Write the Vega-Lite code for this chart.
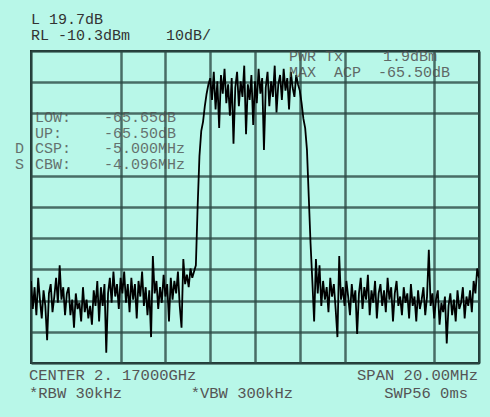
{
  "$schema": "https://vega.github.io/schema/vega-lite/v6.json",
  "autosize": "none",
  "width": 448,
  "height": 312,
  "padding": {"left": 31, "top": 51, "right": 11, "bottom": 54},
  "background": "#b8f7e8",
  "config": {
    "view": {"stroke": "#1a2a28", "strokeWidth": 2, "fill": "#b8f7e8"},
    "text": {"font": "Liberation Mono", "fontSize": 15, "baseline": "alphabetic", "align": "left"}
  },
  "resolve": {"axis": {"x": "independent", "y": "independent"}},
  "datasets": {
    "one": [{"k": 1}],
    "trace": [
      {"f":-10,"p":-84},{"f":-9.92,"p":-93},{"f":-9.84,"p":-86},{"f":-9.76,"p":-95},{"f":-9.68,"p":-83},{"f":-9.6,"p":-90},{"f":-9.52,"p":-96},{"f":-9.44,"p":-87},{"f":-9.36,"p":-92},{"f":-9.28,"p":-103},
      {"f":-9.2,"p":-88},{"f":-9.12,"p":-85},{"f":-9.04,"p":-94},{"f":-8.96,"p":-89},{"f":-8.88,"p":-83},{"f":-8.8,"p":-91},{"f":-8.72,"p":-79},{"f":-8.64,"p":-90},{"f":-8.56,"p":-86},{"f":-8.48,"p":-95},
      {"f":-8.4,"p":-88},{"f":-8.32,"p":-86},{"f":-8.24,"p":-95},{"f":-8.16,"p":-90},{"f":-8.08,"p":-99},{"f":-8,"p":-88},{"f":-7.92,"p":-93},{"f":-7.84,"p":-91},{"f":-7.76,"p":-97},{"f":-7.68,"p":-86},
      {"f":-7.6,"p":-94},{"f":-7.52,"p":-90},{"f":-7.44,"p":-96},{"f":-7.36,"p":-92},{"f":-7.28,"p":-98},{"f":-7.2,"p":-87},{"f":-7.12,"p":-92},{"f":-7.04,"p":-84},{"f":-6.96,"p":-97},{"f":-6.88,"p":-86},
      {"f":-6.8,"p":-92},{"f":-6.72,"p":-85},{"f":-6.64,"p":-107},{"f":-6.56,"p":-88},{"f":-6.48,"p":-83},{"f":-6.4,"p":-91},{"f":-6.32,"p":-81},{"f":-6.24,"p":-89},{"f":-6.16,"p":-85},{"f":-6.08,"p":-93},
      {"f":-6,"p":-83},{"f":-5.92,"p":-88},{"f":-5.84,"p":-81},{"f":-5.76,"p":-91},{"f":-5.68,"p":-85},{"f":-5.6,"p":-94},{"f":-5.52,"p":-83},{"f":-5.44,"p":-90},{"f":-5.36,"p":-85},{"f":-5.28,"p":-96},
      {"f":-5.2,"p":-84},{"f":-5.12,"p":-89},{"f":-5.04,"p":-81},{"f":-4.96,"p":-92},{"f":-4.88,"p":-86},{"f":-4.8,"p":-95},{"f":-4.72,"p":-87},{"f":-4.64,"p":-102},{"f":-4.56,"p":-76},{"f":-4.48,"p":-88},
      {"f":-4.4,"p":-84},{"f":-4.32,"p":-93},{"f":-4.24,"p":-86},{"f":-4.16,"p":-91},{"f":-4.08,"p":-82},{"f":-4,"p":-89},{"f":-3.92,"p":-85},{"f":-3.84,"p":-97},{"f":-3.76,"p":-83},{"f":-3.68,"p":-90},
      {"f":-3.6,"p":-84},{"f":-3.52,"p":-88},{"f":-3.44,"p":-81},{"f":-3.36,"p":-92},{"f":-3.28,"p":-99},{"f":-3.2,"p":-77},{"f":-3.12,"p":-85},{"f":-3.04,"p":-82},{"f":-2.96,"p":-86},{"f":-2.88,"p":-80},
      {"f":-2.8,"p":-83},{"f":-2.72,"p":-81},{"f":-2.64,"p":-79},{"f":-2.56,"p":-60},{"f":-2.48,"p":-44},{"f":-2.4,"p":-36},{"f":-2.32,"p":-33},{"f":-2.24,"p":-28},{"f":-2.16,"p":-24},{"f":-2.08,"p":-21},
      {"f":-2,"p":-19},{"f":-1.92,"p":-26},{"f":-1.84,"p":-17},{"f":-1.76,"p":-29},{"f":-1.68,"p":-20},{"f":-1.6,"p":-35},{"f":-1.52,"p":-18},{"f":-1.44,"p":-24},{"f":-1.36,"p":-16},{"f":-1.28,"p":-27},
      {"f":-1.2,"p":-21},{"f":-1.12,"p":-31},{"f":-1.04,"p":-19},{"f":-0.96,"p":-40},{"f":-0.88,"p":-22},{"f":-0.8,"p":-17},{"f":-0.72,"p":-28},{"f":-0.64,"p":-20},{"f":-0.56,"p":-25},{"f":-0.48,"p":-15},
      {"f":-0.4,"p":-37},{"f":-0.32,"p":-21},{"f":-0.24,"p":-26},{"f":-0.16,"p":-18},{"f":-0.08,"p":-34},{"f":0,"p":-20},{"f":0.08,"p":-27},{"f":0.16,"p":-16},{"f":0.24,"p":-24},{"f":0.32,"p":-19},
      {"f":0.4,"p":-42},{"f":0.48,"p":-22},{"f":0.56,"p":-17},{"f":0.64,"p":-28},{"f":0.72,"p":-20},{"f":0.8,"p":-25},{"f":0.88,"p":-15},{"f":0.96,"p":-30},{"f":1.04,"p":-21},{"f":1.12,"p":-18},
      {"f":1.2,"p":-26},{"f":1.28,"p":-16},{"f":1.36,"p":-23},{"f":1.44,"p":-19},{"f":1.52,"p":-29},{"f":1.6,"p":-17},{"f":1.68,"p":-22},{"f":1.76,"p":-25},{"f":1.84,"p":-18},{"f":1.92,"p":-21},
      {"f":2,"p":-23},{"f":2.08,"p":-27},{"f":2.16,"p":-32},{"f":2.24,"p":-35},{"f":2.32,"p":-42},{"f":2.4,"p":-57},{"f":2.48,"p":-72},{"f":2.56,"p":-84},{"f":2.64,"p":-97},{"f":2.72,"p":-77},
      {"f":2.8,"p":-88},{"f":2.88,"p":-79},{"f":2.96,"p":-92},{"f":3.04,"p":-84},{"f":3.12,"p":-90},{"f":3.2,"p":-86},{"f":3.28,"p":-94},{"f":3.36,"p":-83},{"f":3.44,"p":-89},{"f":3.52,"p":-85},
      {"f":3.6,"p":-93},{"f":3.68,"p":-102},{"f":3.76,"p":-76},{"f":3.84,"p":-90},{"f":3.92,"p":-86},{"f":4,"p":-92},{"f":4.08,"p":-84},{"f":4.16,"p":-89},{"f":4.24,"p":-95},{"f":4.32,"p":-85},
      {"f":4.4,"p":-91},{"f":4.48,"p":-87},{"f":4.56,"p":-101},{"f":4.64,"p":-88},{"f":4.72,"p":-83},{"f":4.8,"p":-93},{"f":4.88,"p":-86},{"f":4.96,"p":-90},{"f":5.04,"p":-82},{"f":5.12,"p":-95},
      {"f":5.2,"p":-87},{"f":5.28,"p":-91},{"f":5.36,"p":-84},{"f":5.44,"p":-96},{"f":5.52,"p":-88},{"f":5.6,"p":-85},{"f":5.68,"p":-92},{"f":5.76,"p":-87},{"f":5.84,"p":-94},{"f":5.92,"p":-83},
      {"f":6,"p":-90},{"f":6.08,"p":-86},{"f":6.16,"p":-97},{"f":6.24,"p":-88},{"f":6.32,"p":-84},{"f":6.4,"p":-92},{"f":6.48,"p":-89},{"f":6.56,"p":-95},{"f":6.64,"p":-86},{"f":6.72,"p":-91},
      {"f":6.8,"p":-88},{"f":6.88,"p":-96},{"f":6.96,"p":-85},{"f":7.04,"p":-92},{"f":7.12,"p":-89},{"f":7.2,"p":-97},{"f":7.28,"p":-87},{"f":7.36,"p":-93},{"f":7.44,"p":-90},{"f":7.52,"p":-86},
      {"f":7.6,"p":-95},{"f":7.68,"p":-89},{"f":7.76,"p":-74},{"f":7.84,"p":-92},{"f":7.92,"p":-88},{"f":8,"p":-96},{"f":8.08,"p":-90},{"f":8.16,"p":-87},{"f":8.24,"p":-98},{"f":8.32,"p":-91},
      {"f":8.4,"p":-94},{"f":8.48,"p":-89},{"f":8.56,"p":-104},{"f":8.64,"p":-92},{"f":8.72,"p":-88},{"f":8.8,"p":-95},{"f":8.88,"p":-90},{"f":8.96,"p":-97},{"f":9.04,"p":-87},{"f":9.12,"p":-93},
      {"f":9.2,"p":-91},{"f":9.28,"p":-86},{"f":9.36,"p":-96},{"f":9.44,"p":-89},{"f":9.52,"p":-92},{"f":9.6,"p":-87},{"f":9.68,"p":-94},{"f":9.76,"p":-84},{"f":9.84,"p":-88},{"f":9.92,"p":-80},
      {"f":10,"p":-83}
    ]
  },
  "layer": [
    {
      "data": {"name": "trace"},
      "mark": {"type": "line", "color": "#000000", "strokeWidth": 1.8, "clip": true},
      "encoding": {
        "x": {"field": "f", "type": "quantitative",
              "scale": {"domain": [-10, 10], "nice": false, "zero": false},
              "axis": {"grid": true, "values": [-10, -6, -4, -2, 0, 2, 4, 8, 10], "labels": false, "ticks": false, "domain": false, "title": null,
                       "gridColor": "#2c4a45", "gridWidth": 2.5, "gridOpacity": 0.8}},
        "y": {"field": "p", "type": "quantitative",
              "scale": {"domain": [-110.3, -10.3], "nice": false, "zero": false},
              "axis": {"grid": true, "values": [-10.3, -20.3, -30.3, -50.3, -60.3, -70.3, -80.3, -90.3, -100.3, -110.3], "labels": false, "ticks": false, "domain": false, "title": null,
                       "gridColor": "#2c4a45", "gridWidth": 2.5, "gridOpacity": 0.8}}
      }
    },
    {"data": {"name": "one"}, "mark": {"type": "text", "text": ["L 19.7dB", "RL -10.3dBm\u00a0\u00a0\u00a0\u00a010dB/"], "fontSize": 15, "lineHeight": 16, "color": "#333333"},
     "encoding": {"x": {"datum": -10, "type": "quantitative", "axis": null}, "y": {"datum": -1.65, "type": "quantitative", "axis": null}}},
    {"data": {"name": "one"}, "mark": {"type": "text", "text": ["PWR Tx", "MAX\u00a0\u00a0ACP"], "fontSize": 15, "lineHeight": 16, "color": "#505050", "opacity": 0.85},
     "encoding": {"x": {"datum": 1.52, "type": "quantitative", "axis": null}, "y": {"datum": -13.5, "type": "quantitative", "axis": null}}},
    {"data": {"name": "one"}, "mark": {"type": "text", "text": "1.9dBm", "fontSize": 15, "color": "#505050", "opacity": 0.85},
     "encoding": {"x": {"datum": 5.71, "type": "quantitative", "axis": null}, "y": {"datum": -13.5, "type": "quantitative", "axis": null}}},
    {"data": {"name": "one"}, "mark": {"type": "text", "text": "-65.50dB", "fontSize": 15, "color": "#505050", "opacity": 0.85},
     "encoding": {"x": {"datum": 5.49, "type": "quantitative", "axis": null}, "y": {"datum": -18.63, "type": "quantitative", "axis": null}}},
    {"data": {"name": "one"}, "mark": {"type": "text", "text": ["LOW:", "UP:", "CSP:", "CBW:"], "fontSize": 15, "lineHeight": 15.7, "color": "#505050", "opacity": 0.8},
     "encoding": {"x": {"datum": -9.82, "type": "quantitative", "axis": null}, "y": {"datum": -33.06, "type": "quantitative", "axis": null}}},
    {"data": {"name": "one"}, "mark": {"type": "text", "text": ["-65.65dB", "-65.50dB", "-5.000MHz", "-4.096MHz"], "fontSize": 15, "lineHeight": 15.7, "color": "#505050", "opacity": 0.8},
     "encoding": {"x": {"datum": -6.74, "type": "quantitative", "axis": null}, "y": {"datum": -33.06, "type": "quantitative", "axis": null}}},
    {"data": {"name": "one"}, "mark": {"type": "text", "text": ["D", "S"], "fontSize": 15, "lineHeight": 16, "color": "#505050", "opacity": 0.8},
     "encoding": {"x": {"datum": -10.71, "type": "quantitative", "axis": null}, "y": {"datum": -43.0, "type": "quantitative", "axis": null}}},
    {"data": {"name": "one"}, "mark": {"type": "text", "text": ["CENTER 2. 17000GHz", "*RBW 30kHz"], "fontSize": 15.5, "lineHeight": 18, "color": "#555555"},
     "encoding": {"x": {"datum": -10.09, "type": "quantitative", "axis": null}, "y": {"datum": -115.75, "type": "quantitative", "axis": null}}},
    {"data": {"name": "one"}, "mark": {"type": "text", "text": "*VBW 300kHz", "fontSize": 15.5, "color": "#555555"},
     "encoding": {"x": {"datum": -2.87, "type": "quantitative", "axis": null}, "y": {"datum": -121.5, "type": "quantitative", "axis": null}}},
    {"data": {"name": "one"}, "mark": {"type": "text", "text": "SPAN 20.00MHz", "fontSize": 15.5, "align": "right", "color": "#555555"},
     "encoding": {"x": {"datum": 9.955, "type": "quantitative", "axis": null}, "y": {"datum": -115.75, "type": "quantitative", "axis": null}}},
    {"data": {"name": "one"}, "mark": {"type": "text", "text": "SWP56 0ms", "fontSize": 15.5, "align": "right", "color": "#555555"},
     "encoding": {"x": {"datum": 9.51, "type": "quantitative", "axis": null}, "y": {"datum": -121.5, "type": "quantitative", "axis": null}}}
  ]
}
